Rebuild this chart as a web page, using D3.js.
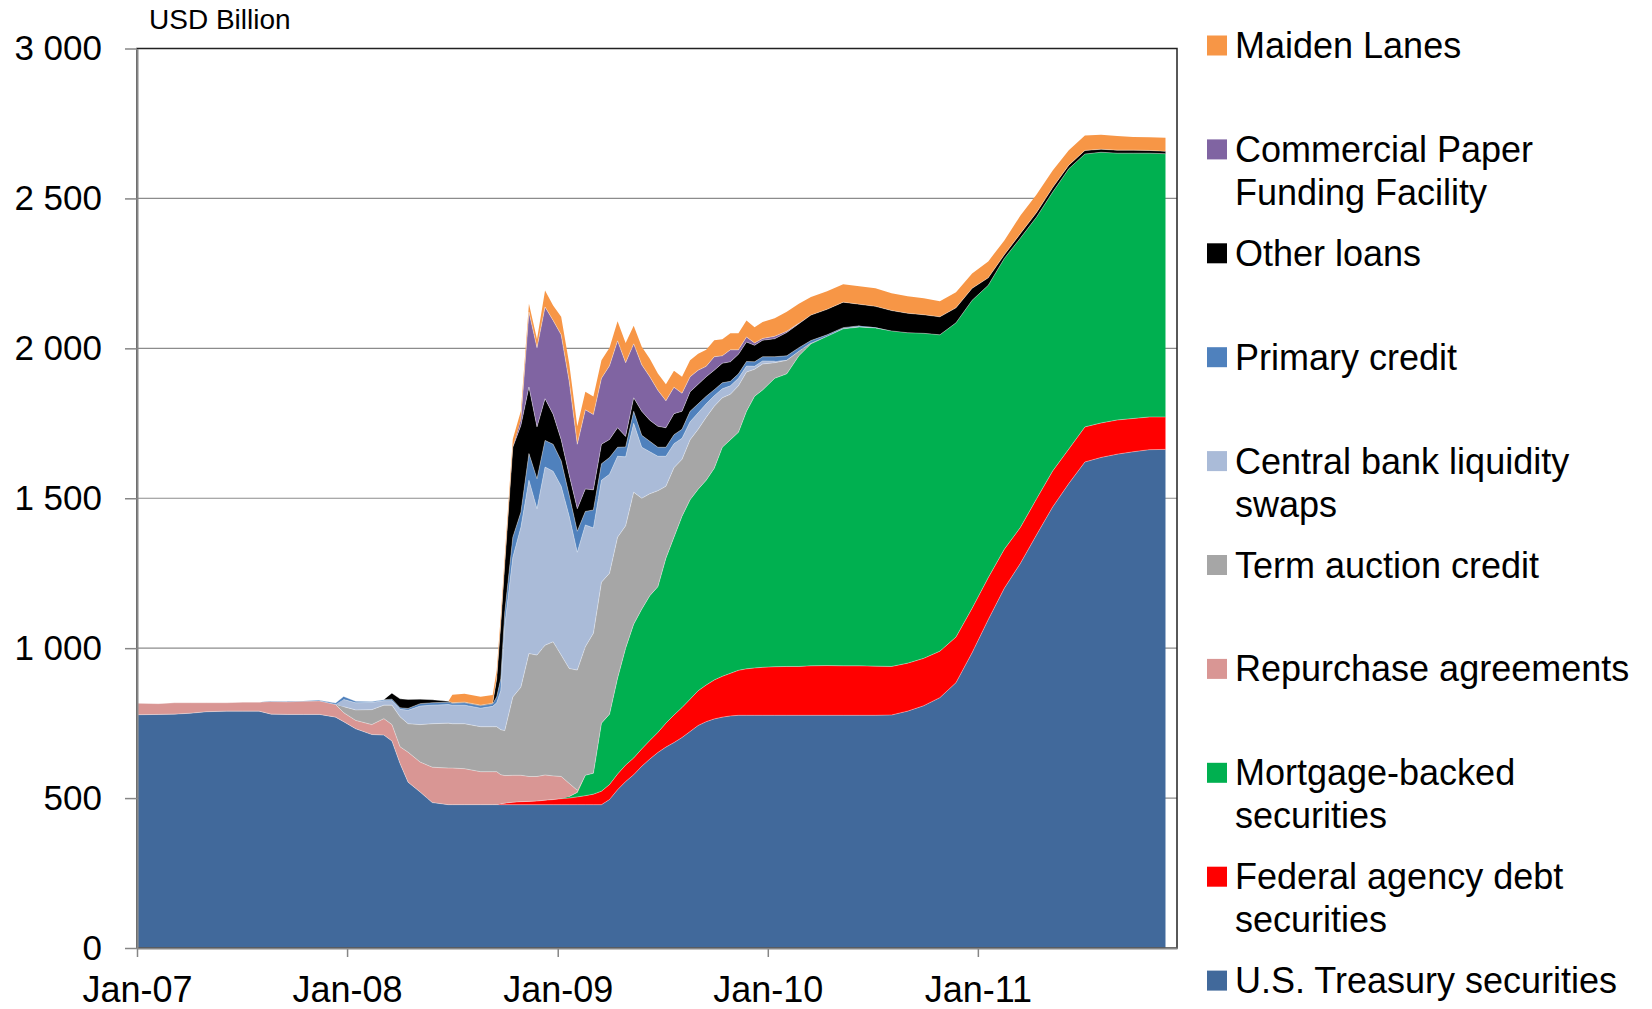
<!DOCTYPE html>
<meta charset="utf-8">
<style>
body {
  margin: 0;
  background-color: #fff;
}
svg {
  display: block;
  font-family: Arial, 'Liberation Sans', sans-serif;
}
.grid line {
  stroke: #8c8c8c;
  stroke-width: 1.2px;
}
.axis path {
  stroke: #868686;
  stroke-width: 2px;
}
.axis line {
  stroke: #868686;
  stroke-width: 1.5px;
}
.axis text {
  fill: #000;
}
</style>
<svg width="1652" height="1009"></svg>
<script src="https://d3js.org/d3.v7.min.js"></script>
<script>
// weekly H.4.1 style dates, sampled (denser during the 2008-09 crisis)
var dates = [
  "2007-01-03","2007-02-07","2007-03-07","2007-04-04","2007-05-02","2007-06-06","2007-07-04","2007-08-01",
  "2007-08-22","2007-09-19","2007-10-17","2007-11-14","2007-12-12","2007-12-26","2008-01-16","2008-02-13",
  "2008-03-05","2008-03-19","2008-04-02","2008-04-16","2008-05-07","2008-05-28","2008-06-25","2008-07-02",
  "2008-07-23","2008-08-20","2008-09-10","2008-09-17","2008-09-24","2008-10-01","2008-10-15","2008-10-29",
  "2008-11-12","2008-11-26","2008-12-10","2008-12-24","2009-01-07","2009-01-21","2009-02-04","2009-02-18",
  "2009-03-04","2009-03-18","2009-04-01","2009-04-15","2009-04-29","2009-05-13","2009-05-27","2009-06-10",
  "2009-06-24","2009-07-08","2009-07-22","2009-08-05","2009-08-19","2009-09-02","2009-09-16","2009-09-30",
  "2009-10-14","2009-10-28","2009-11-11","2009-11-25","2009-12-09","2009-12-23","2010-01-13","2010-02-03",
  "2010-02-24","2010-03-17","2010-04-14","2010-05-12","2010-06-09","2010-07-07","2010-08-04","2010-09-01",
  "2010-09-29","2010-10-27","2010-11-24","2010-12-22","2011-01-19","2011-02-16","2011-03-16","2011-04-13",
  "2011-05-11","2011-06-08","2011-07-06","2011-08-03","2011-08-31","2011-09-28","2011-10-26","2011-11-23"
];

var treasury = [
  778,779,780,783,788,790,790,790,780,779,779,779,770,755,
  731,712,710,690,615,553,520,485,478,478,478,478,
  478,478,478,478,478,478,478,478,478,478,478,478,478,478,478,478,
  495,528,555,578,606,630,652,670,685,702,722,742,755,764,770,774,776,776,776,776,
  776,776,776,776,776,776,776,776,777,
  790,808,835,885,985,
  1095,1200,1283,1378,1471,1549,1621,1636,1647,1655,1662,1663
];
var agency = [
  0,0,0,0,0,0,0,0,0,0,0,0,0,0,0,0,0,0,0,0,0,0,0,0,0,0,0,0,
  3,5,8,10,11,12,15,17,20,22,26,30,35,45,
  50,52,55,56,58,62,67,80,92,100,108,116,122,130,136,142,150,155,158,160,
  162,163,163,165,166,165,165,164,162,160,158,155,152,148,
  140,130,120,120,120,115,117,115,114,111,109,108
];
var mbs = [
  0,0,0,0,0,0,0,0,0,0,0,0,0,0,0,0,0,0,0,0,0,0,0,0,0,0,0,0,0,0,0,0,0,0,0,0,0,
  5,15,68,70,227,
  235,320,390,446,466,483,486,550,593,638,665,672,683,706,764,779,794,859,906,925,
  962,976,1036,1074,1098,1124,1130,1128,1119,1102,1084,1055,1048,1027,
  975,970,965,940,930,935,910,903,890,885,880,878
];
var repo = [
  38,36,38,35,30,28,30,30,42,42,44,45,42,30,
  28,33,55,55,56,100,100,118,122,122,120,110,
  110,110,97,92,90,88,83,82,84,79,74,44,7,
  0,0,0,0,0,0,0,0,0,0,0,0,0,0,0,0,0,0,0,0,0,0,0,0,0,0,0,0,0,0,0,0,0,0,0,0,0,0,0,0,0,0,0,0,0,0,0,0,0
];
var termAuction = [
  0,0,0,0,0,0,0,0,0,0,0,0,0,
  20,35,50,45,65,100,95,125,145,150,148,150,150,
  150,150,150,150,261,294,410,405,433,447,405,383,401,429,467,470,
  470,470,408,440,370,340,320,240,232,190,200,200,210,207,165,152,155,131,90,87,
  52,45,15,3,
  0,0,0,0,0,0,0,0,0,0,0,0,0,0,0,0,0,0,0,0,0,0
];
var swaps = [
  0,0,0,0,0,0,0,0,0,0,0,0,0,
  24,24,24,15,15,25,45,62,62,62,62,62,62,
  68,80,130,350,466,533,578,488,594,569,563,508,393,406,351,340,
  330,270,230,230,170,140,115,100,80,70,60,55,45,35,30,28,25,20,10,10,
  5,1,0,0,0,1,2,1,
  0,0,0,0,0,0,0,0,0,0,0,0,0,0,0,0,0,0
];
var primary = [
  0,0,0,0,0,0,0,0,
  2,2,1,2,5,10,
  5,3,3,5,5,6,8,8,8,6,8,8,
  8,20,40,45,67,50,89,100,89,90,85,70,70,45,60,55,
  56,30,33,40,40,35,30,30,30,30,35,30,25,20,20,15,15,15,15,14,
  15,14,12,8,5,3,2,1,
  0,0,0,0,0,0,0,0,0,0,0,0,0,0,0,0,0,0
];
var otherLoans = [
  0,0,0,0,0,0,0,0,0,0,0,0,0,0,0,0,0,
  20,30,30,15,10,3,2,2,2,
  2,60,180,160,300,290,222,173,139,100,70,67,75,75,67,65,
  60,65,35,45,80,70,70,65,70,60,65,65,65,65,65,65,65,65,55,55,
  60,78,80,85,85,85,72,70,68,65,62,60,50,40,
  25,12,15,15,15,12,12,10,10,10,9,8
];
var cpff = [
  0,0,0,0,0,0,0,0,0,0,0,0,0,0,0,0,0,0,0,0,0,0,0,0,0,0,0,0,0,0,0,
  20,250,264,306,313,350,312,215,264,251,220,
  246,290,246,180,155,145,120,90,88,60,50,47,35,45,25,40,15,17,8,6,
  8,4,2,0,
  0,0,0,0,0,0,0,0,0,0,0,0,0,0,0,0,0,0,0,0,0,0
];
var maidenLanes = [
  0,0,0,0,0,0,0,0,0,0,0,0,0,0,0,0,0,0,0,0,0,0,0,
  27,28,28,28,28,28,28,28,28,28,28,55,50,60,60,60,60,60,60,
  60,65,66,60,60,60,56,55,55,55,55,55,55,55,55,55,55,55,52,55,
  60,65,65,60,60,60,60,60,58,57,55,52,52,50,
  55,48,60,60,57,50,50,48,47,44,44,45
];

var yTicks = [0, 500, 1000, 1500, 2000, 2500, 3000];
var xTicks = ["2007-01-01", "2008-01-01", "2009-01-01", "2010-01-01", "2011-01-01"];

// stack order, bottom to top
var keys = ["treasury", "agency", "mbs", "repo", "termAuction", "swaps", "primary", "otherLoans", "cpff", "maidenLanes"];
var seriesData = {
  treasury: treasury, agency: agency, mbs: mbs, repo: repo, termAuction: termAuction,
  swaps: swaps, primary: primary, otherLoans: otherLoans, cpff: cpff, maidenLanes: maidenLanes
};
var color = {
  treasury: "#41699b", agency: "#ff0000", mbs: "#00b050", repo: "#d99694", termAuction: "#a6a6a6",
  swaps: "#aabbd8", primary: "#4f81bd", otherLoans: "#000000", cpff: "#8064a2", maidenLanes: "#f79646"
};
var labels = {
  maidenLanes: ["Maiden Lanes"],
  cpff: ["Commercial Paper", "Funding Facility"],
  otherLoans: ["Other loans"],
  primary: ["Primary credit"],
  swaps: ["Central bank liquidity", "swaps"],
  termAuction: ["Term auction credit"],
  repo: ["Repurchase agreements"],
  mbs: ["Mortgage-backed", "securities"],
  agency: ["Federal agency debt", "securities"],
  treasury: ["U.S. Treasury securities"]
};

var parse = d3.timeParse("%Y-%m-%d");
var rows = dates.map(function(d, i) {
  var r = { date: parse(d) };
  keys.forEach(function(k) { r[k] = seriesData[k][i]; });
  return r;
});

var svg = d3.select("svg");
var plotLeft = 137, plotRight = 1177, plotTop = 48.5, plotBottom = 948;

var x = d3.scaleTime()
    .domain([new Date(2007, 0, 1), new Date(2011, 11, 13)])
    .range([plotLeft, plotRight]);
var y = d3.scaleLinear()
    .domain([0, 3000])
    .range([plotBottom, plotTop]);

var fmt = d3.formatLocale({ decimal: ".", thousands: " ", grouping: [3], currency: ["", ""] }).format(",");

// gridlines behind the areas
svg.append("g")
    .attr("class", "grid")
  .selectAll("line")
  .data(yTicks.slice(1))
  .enter().append("line")
    .attr("x1", plotLeft)
    .attr("x2", plotRight)
    .attr("y1", function(d) { return y(d); })
    .attr("y2", function(d) { return y(d); });

var stacked = d3.stack().keys(keys)(rows);

var area = d3.area()
    .x(function(d) { return x(d.data.date); })
    .y0(function(d) { return y(d[0]); })
    .y1(function(d) { return y(d[1]); });

svg.append("g")
  .selectAll("path")
  .data(stacked)
  .enter().append("path")
    .attr("fill", function(d) { return color[d.key]; })
    .attr("d", area);

// thin light edges between layers (only where the layer has some height)
var edge = d3.line()
    .defined(function(d) { return d[1] - d[0] > 1; })
    .x(function(d) { return x(d.data.date); })
    .y(function(d) { return y(d[1]); });

svg.append("g")
  .selectAll("path")
  .data(stacked.slice(0, keys.length - 1))
  .enter().append("path")
    .attr("fill", "none")
    .attr("stroke", "#fff")
    .attr("stroke-opacity", 0.6)
    .attr("stroke-width", 0.6)
    .attr("d", edge);

// plot frame
svg.append("rect")
    .attr("x", plotLeft)
    .attr("y", plotTop)
    .attr("width", plotRight - plotLeft)
    .attr("height", plotBottom - plotTop)
    .attr("fill", "none")
    .attr("stroke", "#222")
    .attr("stroke-width", 1.5);

var yAxis = svg.append("g")
    .attr("class", "axis")
    .attr("transform", "translate(" + plotLeft + ",0)")
    .call(d3.axisLeft(y).tickValues(yTicks).tickFormat(fmt).tickSize(12).tickSizeOuter(0).tickPadding(23));
yAxis.selectAll("text").style("font-size", "35px");

var xAxis = svg.append("g")
    .attr("class", "axis")
    .attr("transform", "translate(0," + plotBottom + ")")
    .call(d3.axisBottom(x).tickValues(xTicks.map(parse)).tickFormat(d3.timeFormat("%b-%y")).tickSize(9).tickSizeOuter(0).tickPadding(19));
xAxis.selectAll("text").style("font-size", "36px");

svg.append("text")
    .attr("x", 149)
    .attr("y", 29)
    .style("font-size", "28px")
    .text("USD Billion");

// legend, top entry first
var legend = svg.append("g")
  .selectAll("g")
  .data(keys.slice().reverse())
  .enter().append("g")
    .attr("transform", function(d, i) { return "translate(1207," + (45.5 + i * 103.9) + ")"; });

legend.append("rect")
    .attr("x", 0)
    .attr("y", -10)
    .attr("width", 20)
    .attr("height", 20)
    .attr("fill", function(d) { return color[d]; });

legend.append("text")
    .attr("x", 28)
    .attr("y", 12.5)
    .style("font-size", "36px")
  .selectAll("tspan")
  .data(function(d) { return labels[d]; })
  .enter().append("tspan")
    .attr("x", 28)
    .attr("dy", function(d, i) { return i ? 43 : 0; })
    .text(function(d) { return d; });
</script>
